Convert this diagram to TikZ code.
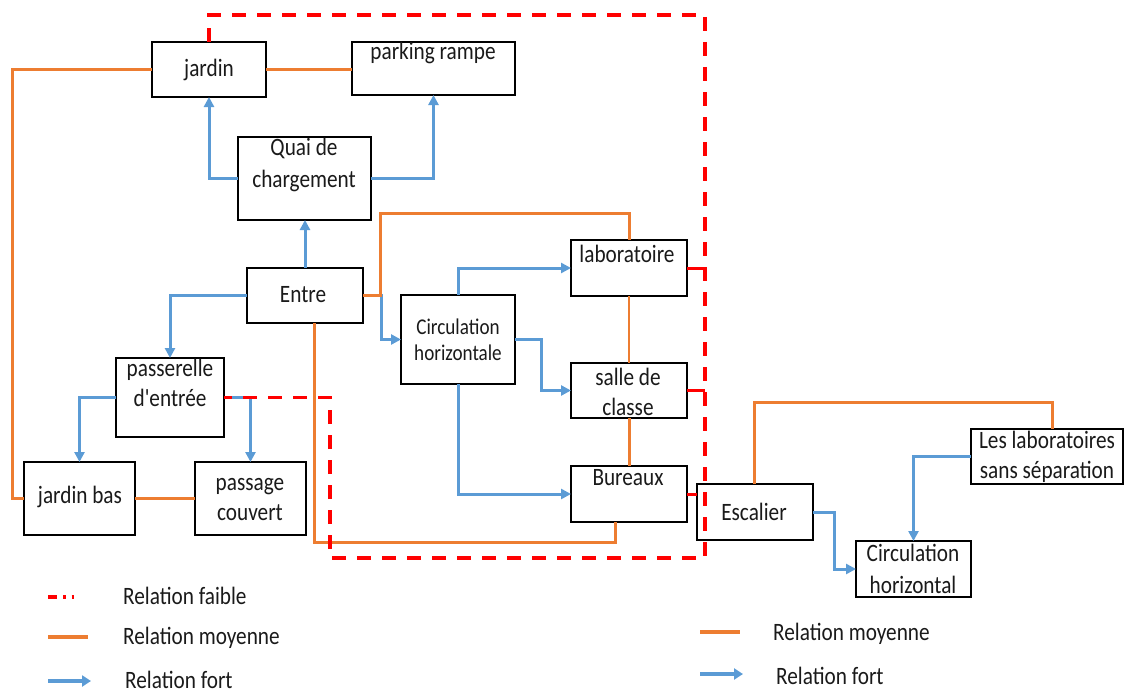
\documentclass[tikz,border=0pt]{standalone}
\usepackage{fontspec}
\setmainfont{Carlito}[FakeStretch=0.85,Ligatures=TeXOff]
\usetikzlibrary{arrows.meta,calc}
\definecolor{om}{HTML}{ED7D31}
\definecolor{bl}{HTML}{5B9BD5}
\definecolor{rd}{HTML}{FF0000}
\definecolor{tx}{HTML}{1A1A1A}
\newcommand{\BX}[5]{\node[box, minimum width={(#4)-(#2)}, minimum height={(#5)-(#3)}] (#1) at ({((#2)+(#4))/2},{((#3)+(#5))/2}) {};}
\begin{document}
\begin{tikzpicture}[x=1pt,y=-1pt,
  box/.style={draw=black, line width=1.6pt, inner sep=0pt, outer sep=0pt, fill=white},
  txt/.style={text=tx, inner sep=0pt, align=center, font=\fontsize{25}{30}\selectfont},
  stxt/.style={text=tx, inner sep=0pt, align=center, font=\fontsize{22.5}{26}\selectfont},
  ltxt/.style={text=tx, inner sep=0pt, anchor=west, font=\fontsize{25}{30}\selectfont},
  omline/.style={draw=om, line width=3pt},
  omthin/.style={draw=om, line width=1.5pt},
  bs/.style={draw=bl, line width=3pt, -{Triangle[length=10pt,width=10pt]}},
  rdash/.style={draw=rd, line width=3.2pt, dash pattern=on 14pt off 11pt},
  rsolid/.style={draw=rd, line width=3pt}]
\useasboundingbox (0,0) rectangle (1138,693);

% boxes
\BX{jardin}{152}{42}{266}{97}
\BX{parking}{352}{42}{515}{95}
\BX{quai}{238}{137}{371}{220}
\BX{entre}{247}{268}{363}{323}
\BX{labo}{571}{240}{687}{296}
\BX{circ}{401}{295}{515}{384}
\BX{salle}{571}{363}{687}{418}
\BX{bureaux}{571}{466}{687}{522}
\BX{passerelle}{116}{358}{224}{437}
\BX{jbas}{24}{462}{135}{535}
\BX{passage}{195}{462}{306}{535}
\BX{escalier}{697}{484}{813}{540}
\BX{lesl}{971}{429}{1123}{484}
\BX{circh}{856}{541}{971}{597}

% texts
\node[txt] (t-jardin) at (209,70) {jardin};
\node[txt] (t-parking) at (433,53) {parking rampe};
\node[txt] (t-quai) at (304,165) {Quai de\\[2pt]chargement};
\node[txt] (t-entre) at (303,295) {Entre};
\node[txt] (t-labo) at (627,254) {laboratoire};
\node[stxt] (t-circ) at (458,340) {Circulation\\horizontale};
\node[txt] (t-salle) at (628,392) {salle de\\classe};
\node[txt] (t-bureaux) at (628,478) {Bureaux};
\node[txt] (t-passerelle) at (170,383) {passerelle\\d'entrée};
\node[txt] (t-jbas) at (80,497) {jardin bas};
\node[txt] (t-passage) at (250,500) {passage\\couvert};
\node[txt] (t-escalier) at (754,512) {Escalier};
\node[txt] (t-lesl) at (1047,457) {Les laboratoires\\sans séparation};
\node[txt] (t-circh) at (913,569) {Circulation\\[2pt]horizontal};

% orange connectors
\draw[omline] (jardin.west) -- ++(-140,0) |- (jbas.west);
\draw[omline] (jardin.east) -- (jardin.east -| parking.west);
\draw[omline] (jbas.east) -- (passage.west);
\draw[omline] ($(entre.south west)+(67,0)$) |- ($(bureaux.south west)+(44,20)$) -- ($(bureaux.south west)+(44,0)$);
\draw[omthin] (labo.south) -- (salle.north);
\draw[omline] (salle.south) -- (bureaux.north);
\draw[omline] ($(escalier.north west)+(57,0)$) |- ($(lesl.north west)+(81,-27)$) -- ($(lesl.north west)+(81,0)$);

% blue connectors
\draw[bs] (quai.west) -| (jardin.south);
\draw[bs] (quai.east) -| (parking.south);
\draw[bs] (entre.north) -- (entre.north |- quai.south);
\draw[bs] (entre.west) -| (passerelle.north);
\draw[bs] (entre.east) -- ++(18,0) |- (circ.west);
\draw[bs] (circ.north) |- (labo.west);
\draw[bs] (circ.east) -- ++(26,0) |- (salle.west);
\draw[bs] (circ.south) |- (bureaux.west);
\draw[bs] (passerelle.west) -| (jbas.north);
\draw[bs] (passerelle.east) -| (passage.north);
\draw[bs] (escalier.east) -- ++(21,0) |- (circh.west);
\draw[bs] (lesl.west) -| (circh.north);

% orange over blue at Entre
\draw[omline] (entre.east) -- ++(17,0) |- ($(labo.north)+(0,-27)$) -- (labo.north);

% red weak relations
\draw[rdash] (jardin.north) -- ++(0,-27) -- ++(496,0) -- ++(0,543) -- ++(-375,0) |- (passerelle.east);
\draw[rsolid] (labo.east) -- ++(18,0);
\draw[rsolid] (salle.east) -- ++(18,0);
\draw[rsolid] (bureaux.east) -- (bureaux.east -| escalier.west);

% legend left
\coordinate (l1a) at (48,597); \coordinate (l1b) at (78,597);
\draw[draw=rd, line width=3.5pt, dash pattern=on 9pt off 6pt on 2.5pt off 6pt on 2.5pt off 30pt] (l1a) -- (l1b);
\node[ltxt] (lt1) at (123,596) {Relation faible};
\coordinate (l2a) at (48,637); \coordinate (l2b) at (88,637);
\draw[draw=om, line width=4pt] (l2a) -- (l2b);
\node[ltxt] (lt2) at (123,638) {Relation moyenne};
\coordinate (l3a) at (48,681); \coordinate (l3b) at (91,681);
\draw[draw=bl, line width=4pt, -{Triangle[length=9pt,width=11pt]}] (l3a) -- (l3b);
\node[ltxt] (lt3) at (125,680) {Relation fort};
% legend right
\coordinate (r2a) at (700,632); \coordinate (r2b) at (740,632);
\draw[draw=om, line width=4pt] (r2a) -- (r2b);
\node[ltxt] (rt2) at (773,634) {Relation moyenne};
\coordinate (r3a) at (700,674); \coordinate (r3b) at (743,674);
\draw[draw=bl, line width=4pt, -{Triangle[length=9pt,width=11pt]}] (r3a) -- (r3b);
\node[ltxt] (rt3) at (776,676) {Relation fort};
\end{tikzpicture}
\end{document}
